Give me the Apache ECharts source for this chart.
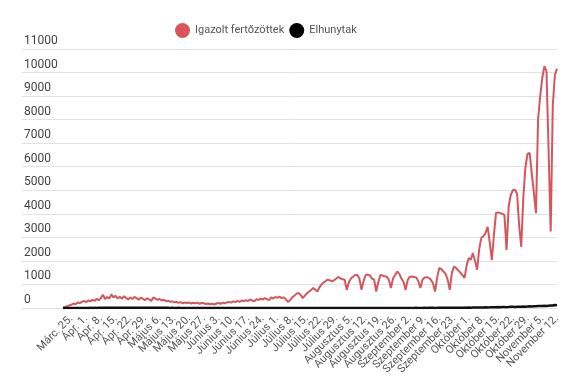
<!DOCTYPE html>
<html>
<head>
<meta charset="utf-8">
<script src="https://cdn.jsdelivr.net/npm/echarts@6/dist/echarts.min.js"></script>
<style>
html,body{margin:0;padding:0;background:#fff;}
#chart{width:575px;height:387px;}
</style>
</head>
<body>
<div id="chart"></div>
<script>
// Daily categories: 2020-03-21 .. 2020-11-12 (2020-09-30 missing in source data)
var startDate = '2020-03-21';
var endDate = '2020-11-12';
var missingDates = ['2020-09-30'];

// Tick labels, shown every 7th category starting at Márc. 25.
var tickLabels = ["Márc. 25.","Ápr. 1.","Ápr. 8.","Ápr. 15.","Ápr. 22.","Ápr. 29.","Május 6.","Május 13.","Május 20.","Május 27.","Június 3.","Június 10.","Június 17.","Június 24.","Július 1.","Július 8.","Július 15.","Július 22.","Július 29.","Augusztus 5.","Augusztus 12.","Augusztus 19.","Augusztus 26.","Szeptember 2.","Szeptember 9.","Szeptember 16.","Szeptember 23.","Október 1.","Október 8.","Október 15.","Október 22.","Október 29.","November 5.","November 12."];
var firstTickIndex = 4;
var tickStep = 7;

var yTicks = [0, 11000, 1000]; // min, max, interval

var confirmed = [
 10,40,80,110,
 140,190,160,230,210,260,300,
 250,320,280,350,300,390,330,
 420,560,380,470,400,580,450,
 520,410,480,390,500,430,360,
 450,380,470,420,350,440,390,
 330,420,360,300,450,400,350,
 380,320,350,290,310,270,280,
 240,260,220,250,200,230,210,
 230,190,220,200,230,180,210,
 200,170,190,160,180,150,190,
 210,180,230,200,240,260,230,
 280,250,300,260,320,290,330,
 300,360,320,280,380,340,400,
 360,420,380,330,450,400,470,
 430,480,420,450,380,260,330,
 450,520,600,640,560,420,520,
 620,700,760,850,780,700,880,
 1000,1080,1150,1200,1170,1130,1180,
 1250,1320,1260,1220,1200,770,1100,
 1250,1330,1400,1400,1250,770,1150,
 1400,1420,1380,1250,1200,700,1100,
 1400,1380,1350,1330,1200,850,1250,
 1400,1550,1450,1250,1100,770,1200,
 1330,1340,1320,1300,1150,850,1200,
 1300,1310,1280,1200,1050,700,1300,
 1700,1650,1550,1450,1200,770,1500,
 1760,1700,1600,1500,1400,1280,1800,
 2120,2050,2330,2000,1620,2500,2980,
 3050,3190,3450,2800,2040,3100,4040,
 4060,4030,4000,3950,2470,4300,4800,
 5000,5020,4850,3500,2600,4740,6000,
 6550,6580,5730,4900,4030,8000,9000,
 9770,10270,10060,6700,3250,8600,9900,10160
];

var deaths = [
 0,1,1,2,
 2,1,3,2,3,5,2,
 4,3,6,5,8,4,7,
 9,13,10,12,8,14,11,
 14,12,10,13,15,11,12,
 13,10,14,12,11,9,10,
 12,10,9,11,8,10,7,
 9,8,6,7,9,5,6,
 5,4,6,3,5,4,3,
 4,3,2,4,3,2,3,
 2,3,1,2,3,1,2,
 1,2,1,0,2,1,1,
 0,1,2,1,0,1,1,
 0,1,0,1,0,1,0,
 1,0,1,0,0,1,0,
 0,1,0,1,0,0,1,
 1,0,1,0,1,0,0,
 0,1,0,0,1,0,1,
 0,1,0,1,0,0,1,
 1,0,2,1,0,1,0,
 1,0,1,2,1,0,1,
 0,1,0,1,2,0,1,
 1,0,2,1,3,1,2,
 2,1,3,2,1,4,3,
 5,3,4,6,2,5,4,
 7,5,8,6,9,5,7,
 10,8,11,9,7,12,10,
 14,11,15,13,10,16,12,
 18,15,20,17,22,19,25,
 24,30,26,28,33,29,35,
 38,34,42,40,37,45,48,
 50,47,55,52,58,61,57,
 65,70,62,75,72,80,85,
 90,95,88,100,110,105,130,120
];

var seriesNames = ['Igazolt fertőzöttek', 'Elhunytak'];

function buildCategories() {
  var out = [];
  var d = new Date(startDate + 'T00:00:00Z');
  var end = new Date(endDate + 'T00:00:00Z');
  while (d <= end) {
    var s = d.toISOString().slice(0, 10);
    if (missingDates.indexOf(s) < 0) out.push(s);
    d = new Date(d.getTime() + 86400000);
  }
  return out;
}
var categories = buildCategories();

var chart = echarts.init(document.getElementById('chart'), null, {renderer: 'canvas'});
var font = 'Roboto, "Noto Sans", sans-serif';
chart.setOption({
  animation: false,
  backgroundColor: '#fff',
  textStyle: {fontFamily: font},
  legend: {
    top: 18,
    left: 170,
    icon: 'circle',
    itemWidth: 15,
    itemHeight: 15,
    itemGap: 5,
    textStyle: {color: '#555', fontSize: 11, fontFamily: font},
    data: seriesNames
  },
  grid: [
    {left: 22, right: 18, top: 49, bottom: 79},
    {left: 63, right: 18, top: 49, bottom: 79}
  ],
  xAxis: [
    {gridIndex: 0, type: 'value', show: false, min: 0, max: 1},
    {
      gridIndex: 1, type: 'category', data: categories, boundaryGap: false,
      axisLine: {show: false}, axisTick: {show: false},
      axisLabel: {
        rotate: 45, fontSize: 11, color: '#555', margin: 9, fontFamily: font,
        interval: 0,
        formatter: function (v, i) {
          if (i < firstTickIndex || (i - firstTickIndex) % tickStep !== 0) return '';
          return tickLabels[(i - firstTickIndex) / tickStep] || '';
        }
      }
    }
  ],
  yAxis: [
    {
      gridIndex: 0, type: 'value', min: yTicks[0], max: yTicks[1], interval: yTicks[2],
      axisLine: {show: false}, axisTick: {show: false},
      splitLine: {lineStyle: {color: '#e2e2e2', width: 1}},
      axisLabel: {
        inside: true, margin: 2, verticalAlign: 'bottom', padding: [0, 0, 2, 0],
        color: '#444', fontSize: 12, fontFamily: font,
        formatter: function (v) { return String(v); }
      }
    },
    {gridIndex: 1, type: 'value', min: yTicks[0], max: yTicks[1], interval: yTicks[2], show: false, splitLine: {show: false}}
  ],
  series: [
    {
      name: seriesNames[0], type: 'line', xAxisIndex: 1, yAxisIndex: 1,
      data: confirmed, showSymbol: false, symbol: 'circle',
      color: '#d9555b',
      lineStyle: {width: 2, color: '#d4575e'}
    },
    {
      name: seriesNames[1], type: 'line', xAxisIndex: 1, yAxisIndex: 1,
      data: deaths, showSymbol: false, symbol: 'circle',
      color: '#000',
      lineStyle: {width: 2.5, color: '#111'}
    }
  ]
});
</script>
</body>
</html>
